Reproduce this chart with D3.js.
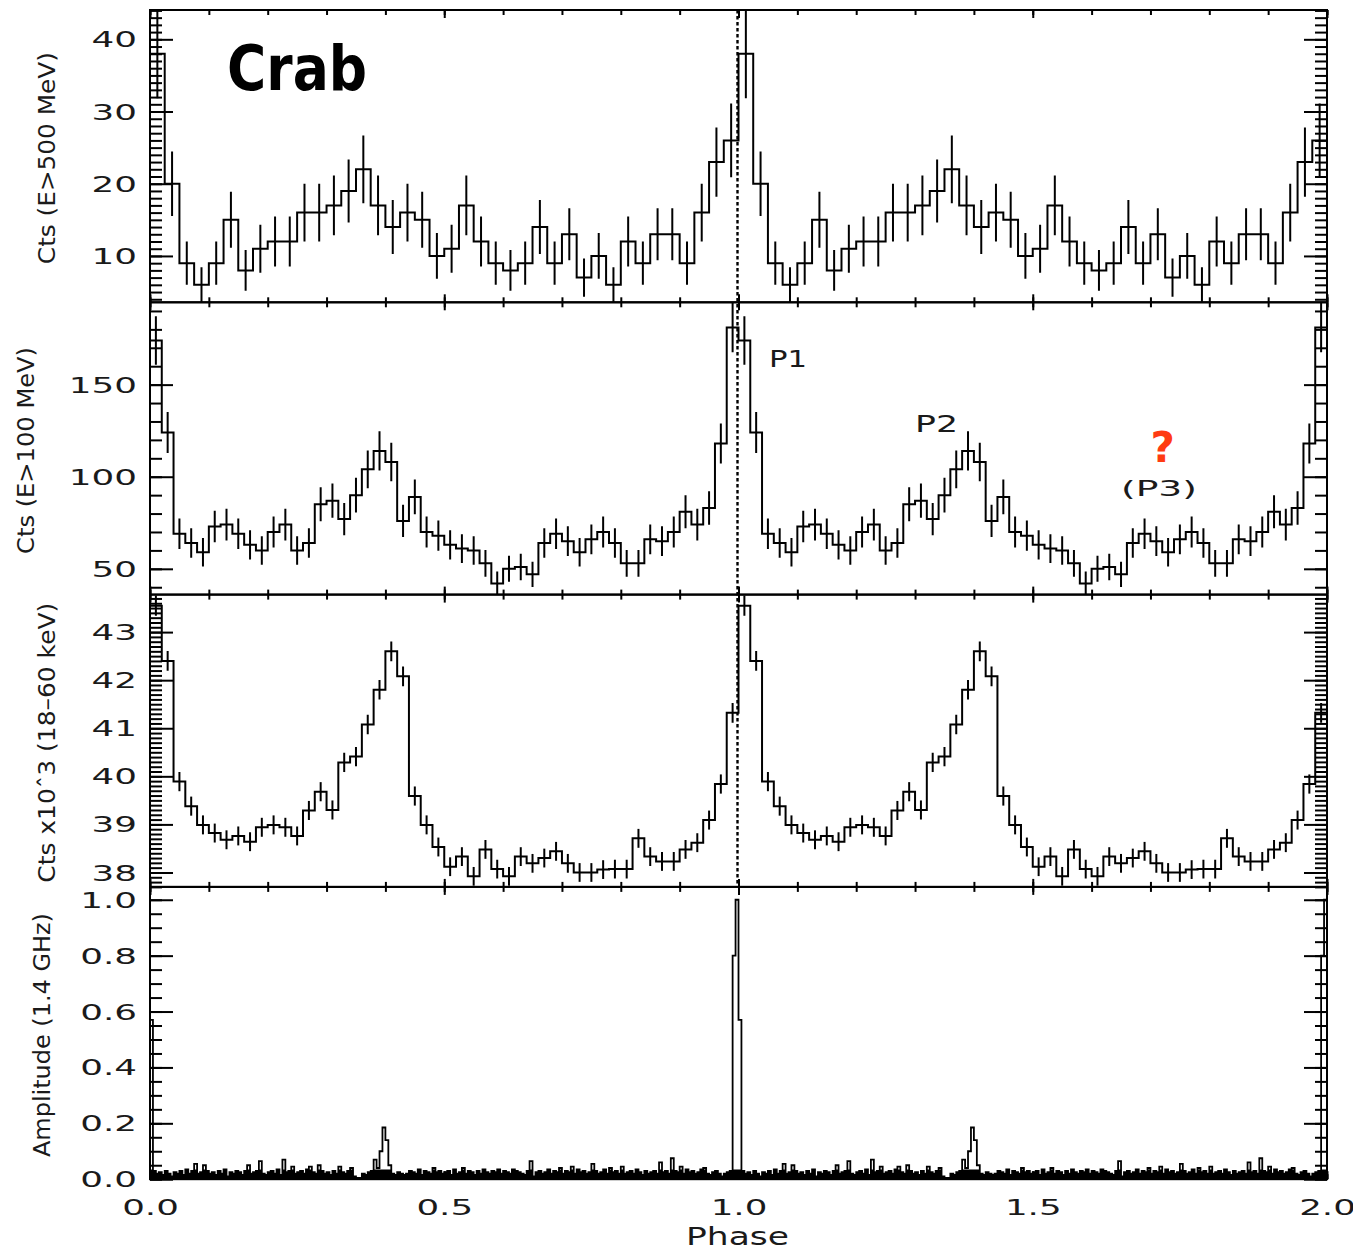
<!DOCTYPE html>
<html>
<head>
<meta charset="utf-8">
<script src="https://cdn.jsdelivr.net/npm/d3@7"></script>
<style>
  html, body { margin: 0; padding: 0; background: #fff; }
  svg { display: block; }
  text { font-family: "DejaVu Sans", "Liberation Sans", sans-serif; fill: #1a1a1a; }
</style>
</head>
<body>
<svg id="chart" width="1353" height="1250"></svg>
<script>
// Crab pulsar light curves over two rotations (phase 0–2), four energy bands stacked.

// ---- data (one rotation; the profile is repeated for phase 1–2) ----
const phaseMajorTicks = [0, 0.5, 1.0, 1.5, 2.0];
const phaseTickLabels = ["0.0", "0.5", "1.0", "1.5", "2.0"];

// E > 500 MeV counts, 40 phase bins
const countsAbove500MeV = [38, 20, 9, 6, 9, 15, 8, 11, 12, 12,
                           16, 16, 17, 19, 22, 17, 14, 16, 15, 10,
                           11, 17, 12, 9, 8, 9, 14, 9, 13, 7,
                           10, 6, 12, 9, 13, 13, 9, 16, 23, 26];

// E > 100 MeV counts, 50 phase bins
const countsAbove100MeV = [174, 124, 69, 64, 59, 73, 74, 69, 63, 60,
                           70, 74, 60, 64, 85, 87, 77, 90, 104, 114,
                           108, 76, 89, 70, 68, 63, 61, 60, 53, 42,
                           50, 51, 47, 64, 69, 65, 59, 66, 70, 64,
                           53, 53, 66, 65, 70, 81, 74, 83, 118, 181];

// 18–60 keV counts in units of 10^3, 50 phase bins
const counts18to60keV = [43.55, 42.40, 39.89, 39.38, 38.99, 38.82, 38.68, 38.76, 38.64, 38.94,
                         38.99, 38.94, 38.76, 39.29, 39.68, 39.30, 40.29, 40.41, 41.08, 41.80,
                         42.60, 42.08, 39.59, 38.99, 38.53, 38.12, 38.33, 37.92, 38.48, 38.07,
                         37.92, 38.33, 38.19, 38.30, 38.44, 38.19, 38.00, 38.00, 38.06, 38.07,
                         38.07, 38.71, 38.33, 38.23, 38.23, 38.48, 38.62, 39.09, 39.84, 41.32];

// 1.4 GHz radio amplitude, 200 phase bins
const radioAmplitude = [
  0.57, 0.03, 0.02, 0.025, 0.015, 0.03, 0.02, 0.01, 0.025, 0.02, 0.03, 0.015, 0.035, 0.02, 0.03, 0.055, 0.02, 0.025, 0.05, 0.03,
  0.02, 0.025, 0.015, 0.03, 0.02, 0.035, 0.01, 0.025, 0.02, 0.03, 0.025, 0.015, 0.03, 0.05, 0.02, 0.025, 0.03, 0.065, 0.02, 0.015,
  0.025, 0.03, 0.02, 0.035, 0.015, 0.07, 0.025, 0.03, 0.045, 0.02, 0.025, 0.03, 0.02, 0.035, 0.045, 0.025, 0.02, 0.05, 0.03, 0.02,
  0.025, 0.015, 0.03, 0.02, 0.045, 0.025, 0.02, 0.03, 0.04, 0.01, 0.005, 0.005, 0.02, 0.015, 0.025, 0.03, 0.07, 0.04, 0.10, 0.185,
  0.14, 0.05, 0.02, 0.015, 0.025, 0.02, 0.015, 0.02, 0.03, 0.025, 0.02, 0.035, 0.015, 0.03, 0.025, 0.02, 0.04, 0.025, 0.03, 0.02,
  0.025, 0.03, 0.015, 0.035, 0.02, 0.025, 0.04, 0.02, 0.03, 0.025, 0.015, 0.03, 0.02, 0.035, 0.025, 0.02, 0.03, 0.025, 0.035, 0.02,
  0.03, 0.025, 0.02, 0.035, 0.03, 0.025, 0.02, 0.015, 0.03, 0.065, 0.01, 0.025, 0.03, 0.02, 0.025, 0.035, 0.02, 0.03, 0.025, 0.04,
  0.02, 0.03, 0.025, 0.045, 0.02, 0.035, 0.025, 0.03, 0.02, 0.025, 0.055, 0.03, 0.02, 0.025, 0.035, 0.02, 0.04, 0.025, 0.03, 0.02,
  0.045, 0.02, 0.025, 0.03, 0.02, 0.035, 0.025, 0.015, 0.03, 0.02, 0.025, 0.03, 0.02, 0.06, 0.025, 0.03, 0.02, 0.075, 0.03, 0.025,
  0.045, 0.02, 0.035, 0.025, 0.03, 0.02, 0.025, 0.035, 0.04, 0.02, 0.015, 0.025, 0.03, 0.02, 0.01, 0.02, 0.025, 0.03, 0.80, 1.00
];

// y ranges and tick labels per band
const yRange500MeV = [3.58, 44.06];
const yTicks500MeV = [10, 20, 30, 40];
const yLabels500MeV = ["10", "20", "30", "40"];

const yRange100MeV = [36.0, 194.7];
const yTicks100MeV = [50, 100, 150];
const yLabels100MeV = ["50", "100", "150"];

const yRangeKeV = [37.70, 43.78];
const yTicksKeV = [38, 39, 40, 41, 42, 43];
const yLabelsKeV = ["38", "39", "40", "41", "42", "43"];

const yRangeRadio = [0, 1.046];
const yTicksRadio = [0, 0.2, 0.4, 0.6, 0.8, 1.0];
const yLabelsRadio = ["0.0", "0.2", "0.4", "0.6", "0.8", "1.0"];

// ---- layout ----
const W = 1353, H = 1250;
const plotLeft = 150, plotRight = 1327, plotTop = 10, panelH = 292.3;

const svg = d3.select("#chart");
svg.append("rect").attr("width", W).attr("height", H).attr("fill", "#fff");
const defs = svg.append("defs");

const x = d3.scaleLinear().domain([0, 2]).range([plotLeft, plotRight]);

// Poisson (sqrt N) uncertainties
const poisson = v => Math.sqrt(v);
const poissonKilo = v => Math.sqrt(v * 1000) / 1000;

const panels = [
  { values: countsAbove500MeV, range: yRange500MeV, major: yTicks500MeV, labels: yLabels500MeV,
    minor: d3.range(4, 45, 1), err: poisson, band: false,
    title: "Cts (E>500 MeV)", titleX: 55, titleLen: 212, stroke: 2 },
  { values: countsAbove100MeV, range: yRange100MeV, major: yTicks100MeV, labels: yLabels100MeV,
    minor: d3.range(40, 195, 10), err: poisson, band: false,
    title: "Cts (E>100 MeV)", titleX: 34, titleLen: 207, stroke: 2 },
  { values: counts18to60keV, range: yRangeKeV, major: yTicksKeV, labels: yLabelsKeV,
    minor: d3.range(377, 438, 1).map(d => d / 10), err: poissonKilo, band: false,
    title: "Cts x10\u02C63 (18\u201360 keV)", titleX: 55, titleLen: 280, stroke: 2 },
  { values: radioAmplitude, range: yRangeRadio, major: yTicksRadio, labels: yLabelsRadio,
    minor: d3.range(0, 21).map(d => d * 0.05), err: null, band: true,
    title: "Amplitude (1.4 GHz)", titleX: 50, titleLen: 244, stroke: 1.8 }
];

function stretch(sel, f) {
  sel.each(function () {
    const w = this.getComputedTextLength();
    d3.select(this).attr("textLength", w * f).attr("lengthAdjust", "spacingAndGlyphs");
  });
}

function styleAxis(g) {
  g.select(".domain").remove();
  g.selectAll(".tick line").attr("stroke", "#000").attr("stroke-width", 2);
  g.attr("font-family", null).attr("font-size", null);
}

const phaseMinor = d3.range(0, 21).map(d => d / 10);
const yScales = [];

panels.forEach((p, k) => {
  const top = plotTop + k * panelH, bottom = top + panelH;
  const y = d3.scaleLinear().domain(p.range).range([bottom, top]);
  yScales.push(y);
  const g = svg.append("g");

  const clipId = "plotclip" + k;
  defs.append("clipPath").attr("id", clipId).append("rect")
    .attr("x", plotLeft).attr("y", top).attr("width", plotRight - plotLeft).attr("height", panelH);

  // two rotations of the binned profile
  const series = p.values.concat(p.values);
  const n = series.length, bw = 2 / n;
  const pts = series.map((v, i) => [i * bw, v]);
  pts.push([2, series[n - 1]]);

  const plot = g.append("g").attr("clip-path", `url(#${clipId})`);

  if (p.band) {
    // the fine-binned noise floor reads as a dark band; shade it up to the noise level
    const bandId = "bandclip" + k;
    defs.append("clipPath").attr("id", bandId).append("rect")
      .attr("x", plotLeft).attr("y", y(0.035)).attr("width", plotRight - plotLeft)
      .attr("height", bottom - y(0.035));
    const area = d3.area().x(d => x(d[0])).y0(bottom).y1(d => y(d[1])).curve(d3.curveStepAfter);
    plot.append("g").attr("clip-path", `url(#${bandId})`)
      .append("path").attr("d", area(pts)).attr("fill", "#000");
  }

  const line = d3.line().x(d => x(d[0])).y(d => y(d[1])).curve(d3.curveStepAfter);
  plot.append("path").attr("d", line(pts))
    .attr("fill", "none").attr("stroke", "#000").attr("stroke-width", p.stroke)
    .attr("stroke-linejoin", "miter");

  if (p.err) {
    plot.selectAll("line.err").data(series).join("line")
      .attr("class", "err")
      .attr("x1", (d, i) => x((i + 0.5) * bw)).attr("x2", (d, i) => x((i + 0.5) * bw))
      .attr("y1", d => y(d - p.err(d))).attr("y2", d => y(d + p.err(d)))
      .attr("stroke", "#000").attr("stroke-width", 2);
  }

  // left axis: minor, then major with labels
  g.append("g").attr("transform", `translate(${plotLeft},0)`)
    .call(d3.axisLeft(y).tickValues(p.minor).tickSize(-12).tickFormat("")).call(styleAxis);
  const la = g.append("g").attr("transform", `translate(${plotLeft},0)`)
    .call(d3.axisLeft(y).tickValues(p.major).tickSize(-23).tickPadding(13)
      .tickFormat((d, i) => p.labels[i])).call(styleAxis);
  la.selectAll("text").attr("font-size", 21).attr("dy", "0.36em").attr("fill", "#1a1a1a");
  stretch(la.selectAll("text"), 1.7);

  // right axis mirrors the ticks
  g.append("g").attr("transform", `translate(${plotRight},0)`)
    .call(d3.axisRight(y).tickValues(p.minor).tickSize(-12).tickFormat("")).call(styleAxis);
  g.append("g").attr("transform", `translate(${plotRight},0)`)
    .call(d3.axisRight(y).tickValues(p.major).tickSize(-23).tickFormat("")).call(styleAxis);

  // phase ticks on top and bottom edges
  g.append("g").attr("transform", `translate(0,${top})`)
    .call(d3.axisTop(x).tickValues(phaseMinor).tickSize(-5).tickFormat("")).call(styleAxis);
  g.append("g").attr("transform", `translate(0,${top})`)
    .call(d3.axisTop(x).tickValues(phaseMajorTicks).tickSize(-8).tickFormat("")).call(styleAxis);
  g.append("g").attr("transform", `translate(0,${bottom})`)
    .call(d3.axisBottom(x).tickValues(phaseMinor).tickSize(-5).tickFormat("")).call(styleAxis);
  const ba = g.append("g").attr("transform", `translate(0,${bottom})`)
    .call(d3.axisBottom(x).tickValues(phaseMajorTicks).tickSize(-8).tickPadding(20)
      .tickFormat((d, i) => k === panels.length - 1 ? phaseTickLabels[i] : "")).call(styleAxis);
  ba.selectAll("text").attr("font-size", 22).attr("fill", "#1a1a1a");
  if (k === panels.length - 1) stretch(ba.selectAll("text"), 1.62);

  // panel frame
  g.append("rect").attr("x", plotLeft).attr("y", top)
    .attr("width", plotRight - plotLeft).attr("height", panelH)
    .attr("fill", "none").attr("stroke", "#000").attr("stroke-width", 2);

  // rotated y title
  const mid = (top + bottom) / 2 + 2;
  svg.append("text").attr("transform", `translate(${p.titleX},${mid}) rotate(-90)`)
    .attr("text-anchor", "middle").attr("font-size", 23)
    .attr("textLength", p.titleLen).attr("lengthAdjust", "spacingAndGlyphs")
    .text(p.title);
});

// dotted marker at phase 1.0 through the three high-energy bands
svg.append("line")
  .attr("x1", x(1.0) - 1).attr("x2", x(1.0) - 1)
  .attr("y1", plotTop).attr("y2", plotTop + 3 * panelH)
  .attr("stroke", "#000").attr("stroke-width", 2.4).attr("stroke-dasharray", "3.5 2.5");

// x title
svg.append("text").attr("x", x(1.0) - 1).attr("y", 1245)
  .attr("text-anchor", "middle").attr("font-size", 24)
  .attr("textLength", 103).attr("lengthAdjust", "spacingAndGlyphs")
  .text("Phase");

// annotations
svg.append("text").attr("x", x(0.131)).attr("y", yScales[0](33))
  .attr("font-family", "'Comic Sans MS', 'DejaVu Sans', sans-serif")
  .attr("font-weight", "bold").attr("font-size", 62).style("fill", "#000")
  .attr("textLength", 140).attr("lengthAdjust", "spacingAndGlyphs")
  .text("Crab");

svg.append("text").attr("x", x(1.052)).attr("y", yScales[1](159.7))
  .attr("font-size", 23).attr("textLength", 38).attr("lengthAdjust", "spacingAndGlyphs")
  .text("P1");

svg.append("text").attr("x", x(1.30)).attr("y", yScales[1](124.4))
  .attr("font-size", 23).attr("textLength", 43).attr("lengthAdjust", "spacingAndGlyphs")
  .text("P2");

svg.append("text").attr("x", x(1.721)).attr("y", yScales[1](107.8))
  .attr("text-anchor", "middle")
  .attr("font-family", "'Comic Sans MS', 'DejaVu Sans', sans-serif")
  .attr("font-weight", "bold").attr("font-size", 42)
  .style("fill", "#ff3b12")
  .text("?");

svg.append("text").attr("x", x(1.7145)).attr("y", yScales[1](89.6))
  .attr("text-anchor", "middle").attr("font-size", 22)
  .attr("textLength", 76).attr("lengthAdjust", "spacingAndGlyphs")
  .text("(P3)");
</script>
</body>
</html>
